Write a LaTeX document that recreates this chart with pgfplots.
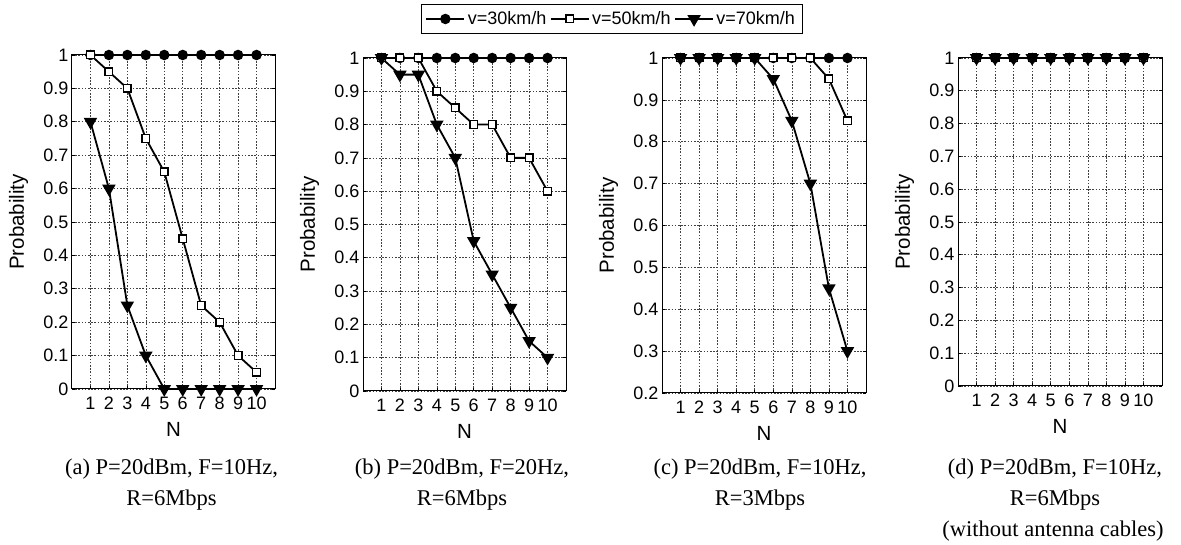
\documentclass[border=0pt]{standalone}
\usepackage{pgfplots}
\pgfplotsset{compat=1.18}
\usepackage{fontspec}
\setmainfont{Liberation Serif}
\newfontfamily\arial{Liberation Sans}

\pgfplotsset{
  panel/.style={
    scale only axis, width=203pt,
    xmin=0, xmax=11, ymin=0, ymax=1,
    xtick={1,2,3,4,5,6,7,8,9,10},
    ytick={0,0.1,0.2,0.3,0.4,0.5,0.6,0.7,0.8,0.9,1},
    grid=major,
    major grid style={dash pattern=on 1.6pt off 1.6pt, black!75, line width=0.6pt},
    axis line style={black, line width=1pt},
    tick align=inside, major tick length=3pt,
    tick style={black, line width=0.6pt},
    /pgf/number format/assume math mode=true,
    ticklabel style={font=\arial\fontsize{18}{18}\selectfont},
    xticklabel style={anchor=base, yshift=-21pt},
    label style={font=\arial\fontsize{20.5}{20.5}\selectfont},
    xlabel={N}, ylabel={Probability},
    xlabel style={at={(axis description cs:0.5,0)}, anchor=base, yshift=-48pt},
    ylabel style={at={(axis description cs:0,0.5)}, anchor=center, yshift=53.5pt},
    clip=false,
    anchor=south west,
  },
  s30/.style={black, line width=1.8pt, mark=*, mark size=4.3pt, mark options={solid, fill=black}},
  s50/.style={black, line width=1.8pt, mark=square*, mark size=3.8pt, mark options={solid, fill=white, line width=1.4pt}},
  s70/.style={black, line width=1.8pt, mark=triangle*, mark size=6pt, mark options={solid, fill=black, rotate=180}},
}

\begin{document}
\begin{tikzpicture}
\useasboundingbox (0pt,0pt) rectangle (1181pt,545pt);

% (a)
\begin{axis}[panel, at={(72pt,156pt)}, height=334pt,
  legend columns=3,
  legend style={at={(axis description cs:2.6576,1.1078)}, anchor=center,
    draw=black, line width=0.8pt, inner sep=4.5pt,
    font=\arial\fontsize{18}{18}\selectfont,
    nodes={inner sep=2.5pt},
    /tikz/every even column/.append style={column sep=1pt}},
  legend cell align=left,
  legend image code/.code={\draw[mark repeat=2,mark phase=2,#1] plot coordinates {(0pt,0pt) (19pt,0pt) (38pt,0pt)};},
]
\addplot[s30] coordinates {(1,1) (2,1) (3,1) (4,1) (5,1) (6,1) (7,1) (8,1) (9,1) (10,1)};
\addlegendentry{v=30km/h}
\addplot[s50] coordinates {(1,1) (2,0.95) (3,0.9) (4,0.75) (5,0.65) (6,0.45) (7,0.25) (8,0.2) (9,0.1) (10,0.05)};
\addlegendentry{v=50km/h}
\addplot[s70] coordinates {(1,0.8) (2,0.6) (3,0.25) (4,0.1) (5,0) (6,0) (7,0) (8,0) (9,0) (10,0)};
\addlegendentry{v=70km/h}
\end{axis}

% (b)
\begin{axis}[panel, at={(363pt,154pt)}, height=333pt]
\addplot[s30] coordinates {(1,1) (2,1) (3,1) (4,1) (5,1) (6,1) (7,1) (8,1) (9,1) (10,1)};
\addplot[s50] coordinates {(1,1) (2,1) (3,1) (4,0.9) (5,0.85) (6,0.8) (7,0.8) (8,0.7) (9,0.7) (10,0.6)};
\addplot[s70] coordinates {(1,1) (2,0.95) (3,0.95) (4,0.8) (5,0.7) (6,0.45) (7,0.35) (8,0.25) (9,0.15) (10,0.1)};
\end{axis}

% (c)
\begin{axis}[panel, at={(662pt,152pt)}, height=335pt, width=204pt, ymin=0.2,
  ytick={0.2,0.3,0.4,0.5,0.6,0.7,0.8,0.9,1}]
\addplot[s30] coordinates {(1,1) (2,1) (3,1) (4,1) (5,1) (6,1) (7,1) (8,1) (9,1) (10,1)};
\addplot[s50] coordinates {(1,1) (2,1) (3,1) (4,1) (5,1) (6,1) (7,1) (8,1) (9,0.95) (10,0.85)};
\addplot[s70] coordinates {(1,1) (2,1) (3,1) (4,1) (5,1) (6,0.95) (7,0.85) (8,0.7) (9,0.45) (10,0.3)};
\end{axis}

% (d)
\begin{axis}[panel, at={(958pt,159pt)}, height=328pt, width=204pt]
\addplot[s30] coordinates {(1,1) (2,1) (3,1) (4,1) (5,1) (6,1) (7,1) (8,1) (9,1) (10,1)};
\addplot[s50] coordinates {(1,1) (2,1) (3,1) (4,1) (5,1) (6,1) (7,1) (8,1) (9,1) (10,1)};
\addplot[s70] coordinates {(1,1) (2,1) (3,1) (4,1) (5,1) (6,1) (7,1) (8,1) (9,1) (10,1)};
\end{axis}

% captions
\begin{scope}[every node/.style={anchor=base, font=\fontsize{22.5}{22.5}\selectfont, inner sep=0pt}]
\node at (171.5pt,70pt) {(a) P=20dBm, F=10Hz,};
\node at (171.5pt,39pt) {R=6Mbps};
\node at (462pt,70pt) {(b) P=20dBm, F=20Hz,};
\node at (462pt,39pt) {R=6Mbps};
\node at (760pt,70pt) {(c) P=20dBm, F=10Hz,};
\node at (760pt,39pt) {R=3Mbps};
\node at (1055pt,70pt) {(d) P=20dBm, F=10Hz,};
\node at (1055pt,39pt) {R=6Mbps};
\node at (1053pt,8pt) {(without antenna cables)};
\end{scope}
\end{tikzpicture}
\end{document}
